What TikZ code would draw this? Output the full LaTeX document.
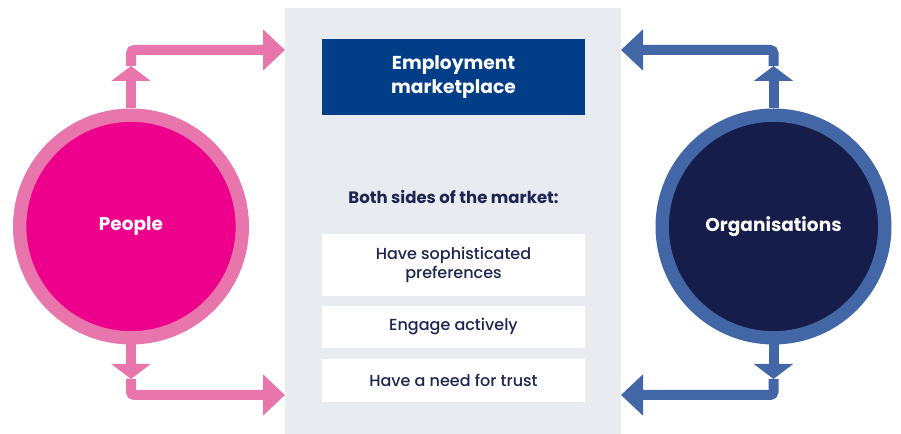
\documentclass[tikz,border=0pt]{standalone}
\usepackage{fontspec}
\setmainfont{Poppins}
\newfontfamily\mediumfont{Poppins Medium}
\usetikzlibrary{arrows.meta}
\definecolor{pinkring}{HTML}{E876AD}
\definecolor{pinkfill}{HTML}{EC008C}
\definecolor{bluering}{HTML}{4266A6}
\definecolor{navyfill}{HTML}{161D4A}
\definecolor{headblue}{HTML}{023E88}
\definecolor{panelgrey}{HTML}{E8EBF0}
\definecolor{inktext}{HTML}{1E2550}
\begin{document}
\begin{tikzpicture}
      [x=0.75pt,y=-0.75pt,
      side node/.style={circle,draw,line width=10pt,minimum size=167pt,inner sep=0pt,
        text=white,font=\fontsize{13.9}{16}\selectfont\bfseries},
      panel/.style={fill=panelgrey,minimum width=252pt,minimum height=319.5pt,inner sep=0pt},
      head box/.style={fill=headblue,text=white,minimum width=197.25pt,minimum height=57pt,
        align=center,font=\fontsize{14}{18}\selectfont\bfseries},
      item box/.style={fill=white,text=inktext,minimum width=197.25pt,inner sep=0pt,
        align=center,font=\mediumfont\fontsize{12}{14.25}\selectfont},
      link/.style={line width=7.5pt},
      big tip/.style={-{Triangle[width=30pt,length=16.5pt]}},
      small tip/.style={-{Triangle[width=29pt,length=11.25pt]}}]
      \useasboundingbox (0,0) rectangle (901,434);
      % market in the middle
      \node[panel] (mkt) at (453,221) {};
      \node[head box] (emp) at (453.5,77) {Employment\\marketplace};
      \node[text=inktext,font=\fontsize{12.4}{15}\selectfont\bfseries] (both) at (453.5,197)
        {Both sides of the market:};
      \node[item box,minimum height=46.5pt] (pref) at (453.5,265) {Have sophisticated\\preferences};
      \node[item box,minimum height=31.5pt] (act) at (453.5,327) {Engage actively};
      \node[item box,minimum height=32.25pt] (trust) at (453.5,380.5) {Have a need for trust};
      % the two sides
      \node[side node,draw=pinkring,fill=pinkfill] (ppl) at (131,226.5) {People};
      \node[side node,draw=bluering,fill=navyfill] (org) at (773.5,226.5) {Organisations};
      \coordinate (pUp) at (131,66);
      \coordinate (pDn) at (131,379);
      \coordinate (oUp) at (773.5,66);
      \coordinate (oDn) at (773.5,379);
      \coordinate (inTL) at (285,50);
      \coordinate (inBL) at (285,395);
      \coordinate (inTR) at (621,50);
      \coordinate (inBR) at (621,395);
      % arrows
      \draw[link,pinkring,small tip] (ppl.north) -- (pUp);
      \draw[link,pinkring,big tip,rounded corners=2.5pt] (pUp) |- (inTL);
      \draw[link,pinkring,small tip] (ppl.south) -- (pDn);
      \draw[link,pinkring,big tip,rounded corners=2.5pt] (pDn) |- (inBL);
      \draw[link,bluering,small tip] (org.north) -- (oUp);
      \draw[link,bluering,big tip,rounded corners=2.5pt] (oUp) |- (inTR);
      \draw[link,bluering,small tip] (org.south) -- (oDn);
      \draw[link,bluering,big tip,rounded corners=2.5pt] (oDn) |- (inBR);
    \end{tikzpicture}
\end{document}
